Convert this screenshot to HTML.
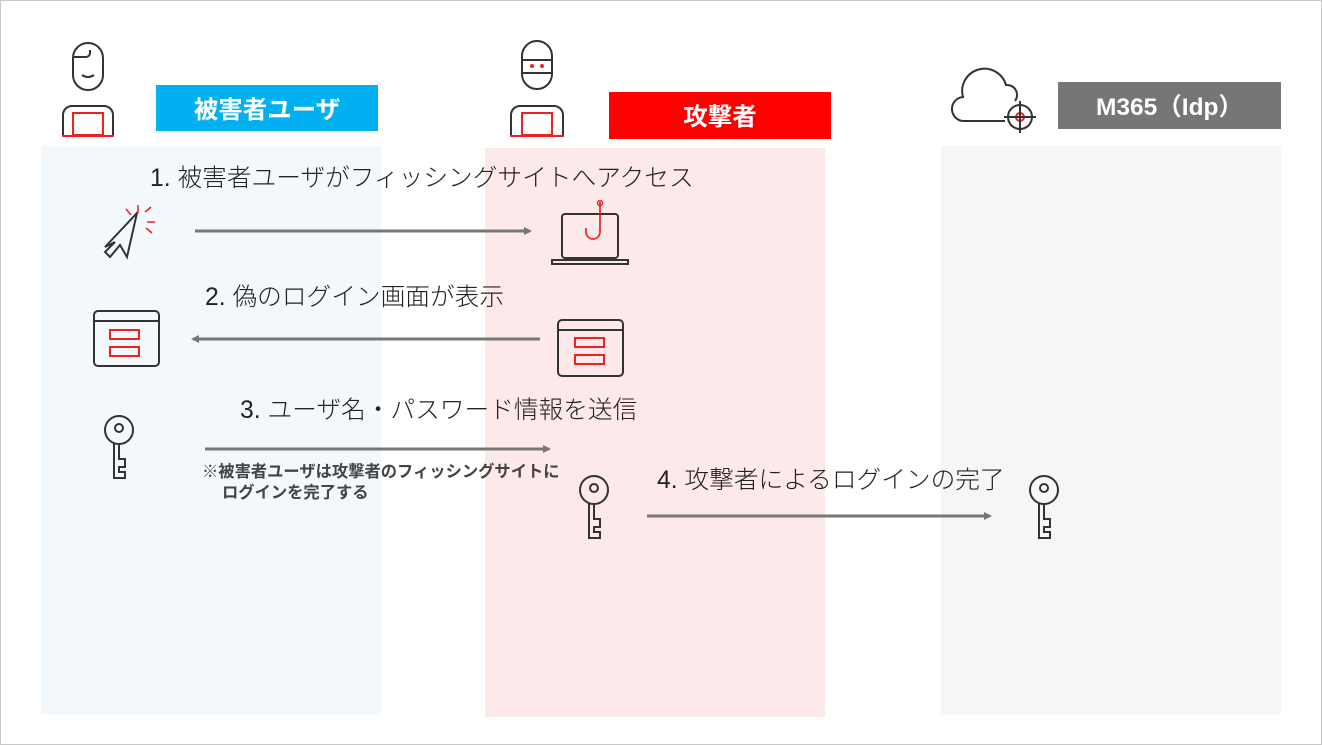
<!DOCTYPE html>
<html><head><meta charset="utf-8"><style>
body{margin:0;width:1322px;height:745px;position:relative;background:#fff;overflow:hidden;font-family:"Liberation Sans","Noto Sans CJK JP",sans-serif}
.a{position:absolute}
.lab{position:absolute;color:#fff;font-weight:bold;font-size:24.5px;display:flex;align-items:center;justify-content:center}
.t{position:absolute;font-size:24.7px;color:#222;white-space:nowrap;font-weight:300;line-height:1}
</style></head><body>
<div class="a" style="left:0;top:0;width:1320px;height:743px;border:1px solid #c8c8c8"></div>
<div class="a" style="left:41px;top:146px;width:340px;height:569px;background:#f3f8fc"></div>
<div class="a" style="left:485px;top:148px;width:340px;height:569px;background:#fde8ea"></div>
<div class="a" style="left:941px;top:146px;width:340px;height:569px;background:#f6f6f6"></div>
<div class="lab" style="left:156px;top:85px;width:222px;height:46px;background:#00b0f0">被害者ユーザ</div>
<div class="lab" style="left:609px;top:92px;width:222px;height:47px;background:#ff0000">攻撃者</div>
<div class="lab" style="left:1058px;top:82px;width:223px;height:47px;background:#767676">M365（Idp）</div>
<div class="t" style="left:150px;top:167px">1. 被害者ユーザがフィッシングサイトへアクセス</div>
<div class="t" style="left:205px;top:286px">2. 偽のログイン画面が表示</div>
<div class="t" style="left:240px;top:399px">3. ユーザ名・パスワード情報を送信</div>
<div class="t" style="left:657px;top:469px">4. 攻撃者によるログインの完了</div>
<div class="a" style="left:202px;top:462px;font-size:16.3px;font-weight:bold;color:#444;line-height:21px;white-space:nowrap">※被害者ユーザは攻撃者のフィッシングサイトに<br><span style="padding-left:20px">ログインを完了する</span></div>
<svg class="a" style="left:0;top:0" width="1322" height="745" fill="none" stroke="#333" stroke-width="2">
<defs><marker id="m" markerWidth="8" markerHeight="8" refX="6" refY="4" orient="auto" markerUnits="userSpaceOnUse"><path d="M0,0L8,4L0,8z" fill="#777" stroke="none"/></marker></defs>
<g stroke="#777" stroke-width="3">
<line x1="195" y1="231" x2="530" y2="231" marker-end="url(#m)"/>
<line x1="540" y1="339" x2="193" y2="339" marker-end="url(#m)"/>
<line x1="205" y1="449" x2="549" y2="449" marker-end="url(#m)"/>
<line x1="647" y1="516" x2="990" y2="516" marker-end="url(#m)"/>
</g>
<rect x="73" y="43" width="30" height="47" rx="15"/>
<path d="M73,57h13a4,4 0 0 0 4,-4v-3M82,75q6,4 12,0"/>
<path d="M63,135v-20a9,9 0 0 1 9,-9h32a9,9 0 0 1 9,9v20"/>
<rect x="73" y="113" width="30" height="22" stroke="#e22"/><line x1="62" y1="136" x2="114" y2="136" stroke="#e22"/>
<rect x="522" y="41" width="30" height="48" rx="15"/>
<path d="M522,60h30M522,73h30"/><circle cx="532" cy="66" r="1" stroke="#e22"/><circle cx="542" cy="66" r="1" stroke="#e22"/>
<path d="M511,135v-20a9,9 0 0 1 9,-9h34a9,9 0 0 1 9,9v20"/>
<rect x="522" y="113" width="30" height="22" stroke="#e22"/><line x1="510" y1="136" x2="564" y2="136" stroke="#e22"/>
<path d="M1005,121h-40a12,12 0 0 1 -2,-24a22,22 0 0 1 43,-12a10,10 0 0 1 9,16"/>
<circle cx="1020" cy="117" r="12"/><circle cx="1020" cy="117" r="4" stroke="#e22"/><path d="M1020,101v32M1004,117h32"/>
<path d="M105,247l32,-34l-10,44l-7,-12l-10,12l-5,-5l10,-10z"/>
<path d="M138,205v8M126,209l5,6M145,212l6,-5M147,222h8M146,228l6,5" stroke="#e22" stroke-width="1.5"/>
<rect x="562" y="214" width="56" height="44" rx="3"/><path d="M552,260h76v4h-76z"/>
<path d="M600,202v30a7,7 0 0 1 -14,0v-4" stroke="#e22" stroke-width="1.7"/><circle cx="600" cy="203" r="2.5" stroke="#e22" stroke-width="1.5"/>
<rect x="94" y="311" width="65" height="55" rx="4"/><line x1="94" y1="321" x2="159" y2="321"/>
<rect x="110" y="330" width="29" height="9" stroke="#e22"/><rect x="110" y="347" width="29" height="9" stroke="#e22"/>
<rect x="558" y="320" width="65" height="56" rx="4"/><line x1="558" y1="330" x2="623" y2="330"/>
<rect x="575" y="338" width="29" height="9" stroke="#e22"/><rect x="575" y="355" width="29" height="9" stroke="#e22"/>
<g id="k"><circle cx="119" cy="430" r="14"/><circle cx="119" cy="428" r="4"/><path d="M114,443v35h11v-6h-6v-5h6v-8h-6v-16"/></g>
<use href="#k" transform="translate(475,60)"/>
<use href="#k" transform="translate(925,60)"/>
</svg>
</body></html>
